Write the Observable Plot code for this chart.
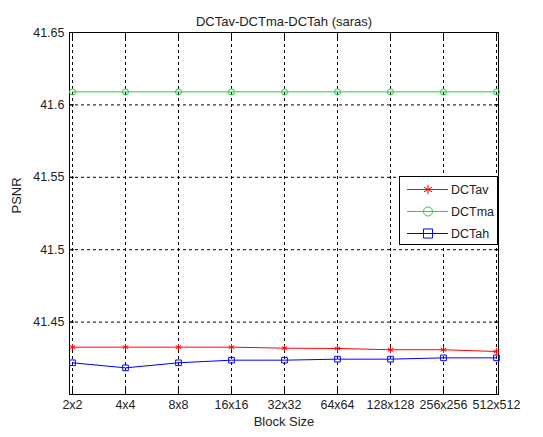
<!DOCTYPE html>
<html>
<head>
<meta charset="utf-8">
<script src="https://cdn.jsdelivr.net/npm/d3@7"></script>
<script src="https://cdn.jsdelivr.net/npm/@observablehq/plot@0.6"></script>
<style>
  html, body { margin: 0; padding: 0; background: #fff; }
  #wrap { position: relative; width: 543px; height: 437px; }
  #wrap svg { font-family: "Liberation Sans", Arial, sans-serif; }
  #legend { position: absolute; left: 0; top: 0; }
</style>
</head>
<body>
<div id="wrap"></div>
<script>
const title = "DCTav-DCTma-DCTah (saras)";
const xLabel = "Block Size";
const yLabel = "PSNR";
const categories = ["2x2","4x4","8x8","16x16","32x32","64x64","128x128","256x256","512x512"];
const yTicks = [41.45, 41.5, 41.55, 41.6, 41.65];
const yDomain = [41.4, 41.65];
const seriesNames = ["DCTav", "DCTma", "DCTah"];
const seriesColors = ["#ff0000", "#22cc44", "#0000ff"];
const seriesSymbols = ["asterisk", "circle", "square"];
const dctav = [41.4327, 41.4327, 41.4327, 41.4327, 41.4320, 41.4318, 41.4309, 41.4309, 41.4297];
const dctma = [41.6090, 41.6090, 41.6090, 41.6090, 41.6090, 41.6090, 41.6090, 41.6090, 41.6090];
const dctah = [41.4219, 41.4184, 41.4219, 41.4237, 41.4237, 41.4244, 41.4244, 41.4253, 41.4253];

const seriesValues = [dctav, dctma, dctah];
const rows = [];
seriesNames.forEach((s, i) => categories.forEach((c, j) => rows.push({series: s, cat: c, v: seriesValues[i][j]})));

const textColor = "#222";
const fmt = d => String(+d.toFixed(2));
const blank = () => "";
const symR = {asterisk: 4.5, circle: 4.5, square: 5.1};

const chart = Plot.plot({
  width: 543,
  height: 437,
  marginLeft: 69,
  marginRight: 45,
  marginTop: 32,
  marginBottom: 43,
  style: {fontFamily: "Liberation Sans, Arial, sans-serif", fontSize: "12.5px", color: textColor, background: "#fff"},
  x: {type: "point", domain: categories, padding: 0},
  y: {domain: yDomain},
  color: {domain: seriesNames, range: seriesColors},
  symbol: {domain: seriesNames, range: seriesSymbols},
  marks: [
    Plot.gridX({stroke: "#000", strokeOpacity: 1, strokeDasharray: "3,3"}),
    Plot.gridY(yTicks, {stroke: "#000", strokeOpacity: 1, strokeDasharray: "3,3"}),
    Plot.frame({stroke: "#000"}),
    Plot.axisX({anchor: "bottom", tickSize: -5, tickFormat: blank, label: null, stroke: "#000"}),
    Plot.axisX({anchor: "top", tickSize: -5, tickFormat: blank, label: null, stroke: "#000"}),
    Plot.axisY(yTicks, {anchor: "left", tickSize: -5, tickFormat: blank, label: null, stroke: "#000"}),
    Plot.axisY(yTicks, {anchor: "right", tickSize: -5, tickFormat: blank, label: null, stroke: "#000"}),
    Plot.axisX({anchor: "bottom", tickSize: 0, tickPadding: 6, label: null, fill: textColor}),
    Plot.axisY(yTicks, {anchor: "left", tickSize: 0, tickPadding: 5, tickFormat: fmt, label: null, fill: textColor}),
    Plot.line(rows, {x: "cat", y: "v", z: "series", stroke: "series", strokeWidth: 1}),
    Plot.dot(rows, {x: "cat", y: "v", stroke: "series", symbol: "series", r: d => symR[seriesSymbols[seriesNames.indexOf(d.series)]], strokeWidth: 1}),
    Plot.text([title], {frameAnchor: "top", dy: -16, fill: textColor, fontSize: 13}),
    Plot.text([xLabel], {frameAnchor: "bottom", dy: 31, fill: textColor, fontSize: 13}),
    Plot.text([yLabel], {frameAnchor: "left", dx: -53, rotate: -90, fill: textColor, fontSize: 13})
  ]
});
document.getElementById("wrap").appendChild(chart);

// Legend overlay
const lg = d3.select("#wrap").append("svg")
  .attr("id", "legend")
  .attr("width", 543).attr("height", 437)
  .style("pointer-events", "none");
const lx = 399, ly = 176, lw = 98, lh = 68;
lg.append("rect").attr("x", lx + 0.5).attr("y", ly + 0.5).attr("width", lw).attr("height", lh)
  .attr("fill", "#fff").attr("stroke", "#000");
seriesNames.forEach((name, i) => {
  const cy = ly + 13.5 + i * 22;
  const g = lg.append("g");
  g.append("line").attr("x1", lx + 8).attr("x2", lx + 49).attr("y1", cy).attr("y2", cy)
    .attr("stroke", seriesColors[i]);
  const sym = {asterisk: d3.symbolAsterisk, circle: d3.symbolCircle, square: d3.symbolSquare}[seriesSymbols[i]];
  const r = symR[seriesSymbols[i]];
  g.append("path").attr("d", d3.symbol(sym, Math.PI * r * r)())
    .attr("transform", `translate(${lx + 29},${cy})`)
    .attr("fill", "none").attr("stroke", seriesColors[i]);
  g.append("text").attr("x", lx + 52).attr("y", cy).attr("dy", "0.36em")
    .attr("fill", textColor).attr("font-size", 12.5)
    .attr("font-family", "Liberation Sans, Arial, sans-serif").text(name);
});
</script>
</body>
</html>
